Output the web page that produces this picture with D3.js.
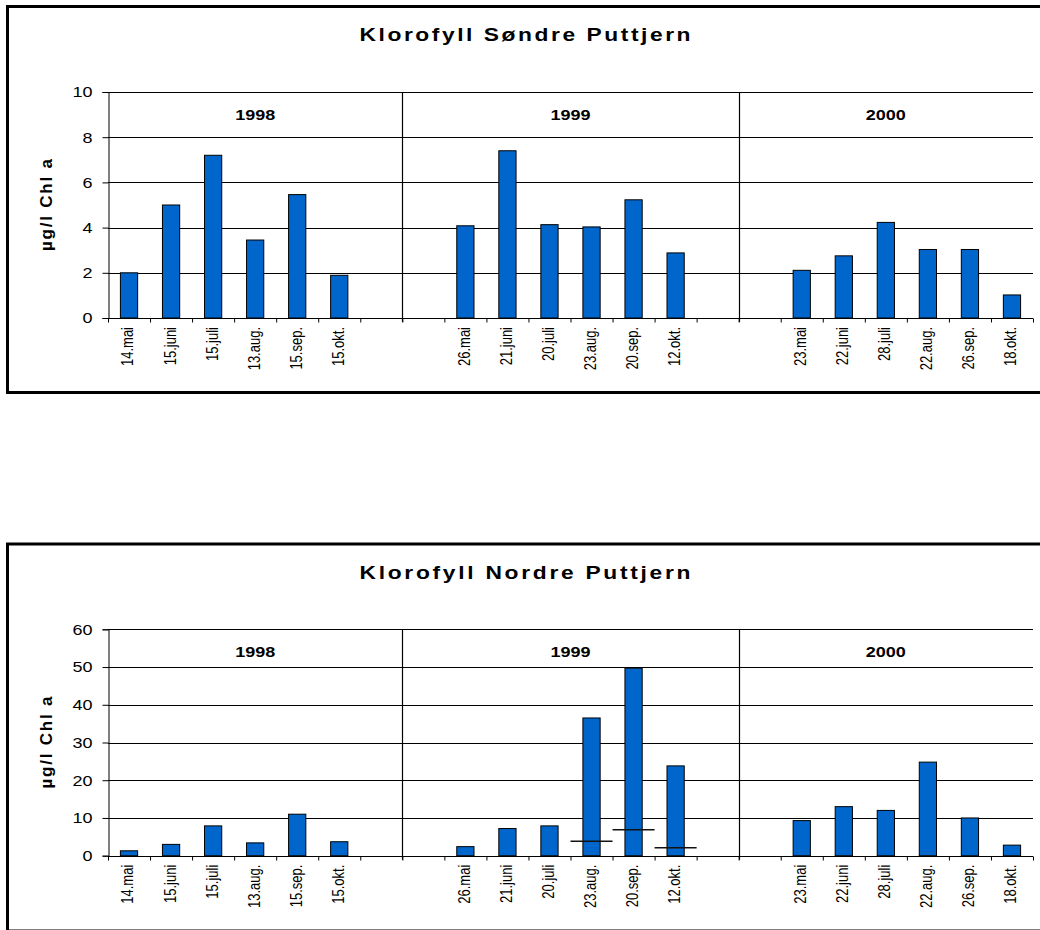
<!DOCTYPE html>
<html>
<head>
<meta charset="utf-8">
<script src="https://cdn.jsdelivr.net/npm/d3@7"></script>
<style>
  body { margin: 0; background: #fff; }
  svg { display: block; font-family: "Liberation Sans", Arial, sans-serif; }
</style>
</head>
<body>
<svg id="chart" width="1040" height="930"></svg>
<script>
// categories incl. the empty slots Excel leaves between the years
const categories = [
    "14.mai", "15.juni", "15.juli", "13.aug.", "15.sep.", "15.okt.", "",
    "", "26.mai", "21.juni", "20.juli", "23.aug.", "20.sep.", "12.okt.", "",
    "", "23.mai", "22.juni", "28.juli", "22.aug.", "26.sep.", "18.okt."
];
const years = ["1998", "1999", "2000"];
const yearSlots = [7, 8, 7]; // number of category slots per year

const soendreValues = [
    2.0, 5.0, 7.2, 3.45, 5.46, 1.89, null,
    null, 4.08, 7.4, 4.13, 4.03, 5.23, 2.88, null,
    null, 2.11, 2.75, 4.23, 3.03, 3.03, 1.02
];
const nordreValues = [
    1.3, 3.0, 7.9, 3.4, 11.0, 3.7, null,
    null, 2.4, 7.2, 7.9, 36.5, 49.7, 23.8, null,
    null, 9.3, 13.0, 12.0, 24.8, 10.0, 2.8
];
// second series in Nordre, shown only as dash markers
const nordreDashValues = [
    null, null, null, null, null, null, null,
    null, null, null, null, 3.8, 6.9, 2.1, null,
    null, null, null, null, null, null, null
];

const yTicksSoendre = [0, 2, 4, 6, 8, 10];
const yTicksNordre = [0, 10, 20, 30, 40, 50, 60];

const svg = d3.select("#chart");
const left = 108, right = 1033;
const stretch = 1.2; // the original picture is stretched sideways, so the glyphs are wider

/*
*   Draws one framed chart
*/
const drawChart = (opts) => {
    let g = svg.append("g");

    // frame
    g.append("rect")
        .attr("x", 7.5).attr("y", opts.frameTop)
        .attr("width", 1045).attr("height", opts.frameBottom - opts.frameTop)
        .attr("fill", "none").attr("stroke", "#000").attr("stroke-width", 3);

    let y = d3.scaleLinear().domain([0, d3.max(opts.ticks)]).range([opts.bottom, opts.top]);
    let x = d3.scaleBand().domain(d3.range(categories.length)).range([left, right]);
    let xEdge = d3.scaleLinear().domain([0, categories.length]).range([left, right]);

    // gridlines
    g.selectAll(".grid").data(opts.ticks.filter(d => d > 0)).enter().append("line")
        .attr("x1", left).attr("x2", right)
        .attr("y1", d => Math.round(y(d)) + 0.5).attr("y2", d => Math.round(y(d)) + 0.5)
        .attr("stroke", "#000").attr("stroke-width", 1);

    // year separators
    let edges = d3.cumsum(yearSlots);
    g.selectAll(".sep").data(edges.slice(0, -1)).enter().append("line")
        .attr("x1", d => Math.round(xEdge(d)) + 0.5).attr("x2", d => Math.round(xEdge(d)) + 0.5)
        .attr("y1", opts.top).attr("y2", opts.bottom + 4)
        .attr("stroke", "#000").attr("stroke-width", 1.2);

    // year labels
    g.selectAll(".year").data(years).enter().append("text")
        .attr("transform", (d, i) => "translate(" + ((xEdge(i === 0 ? 0 : edges[i - 1]) + xEdge(edges[i])) / 2) + "," + (opts.top + 27.5) + ") scale(" + stretch + ",1)")
        .attr("text-anchor", "middle")
        .attr("font-size", 15).attr("font-weight", "bold")
        .text(d => d);

    // bars
    let barW = x.bandwidth() * 0.41;
    let data = opts.values.map((v, i) => ({ i: i, v: v })).filter(d => d.v !== null);
    g.selectAll(".bar").data(data).enter().append("rect")
        .attr("x", d => x(d.i) + (x.bandwidth() - barW) / 2)
        .attr("y", d => y(d.v))
        .attr("width", barW)
        .attr("height", d => y(0) - y(d.v))
        .attr("fill", "#0066cc").attr("stroke", "#000").attr("stroke-width", 1);

    // dash markers
    if(opts.dashes) {
        let dashData = opts.dashes.map((v, i) => ({ i: i, v: v })).filter(d => d.v !== null);
        g.selectAll(".dash").data(dashData).enter().append("line")
            .attr("x1", d => x(d.i)).attr("x2", d => x(d.i) + x.bandwidth())
            .attr("y1", d => y(d.v)).attr("y2", d => y(d.v))
            .attr("stroke", "#111").attr("stroke-width", 1.5);
    }

    // y axis
    let yAxis = g.append("g").attr("transform", "translate(" + (left + 0.5) + ",0)")
        .call(d3.axisLeft(y).tickValues(opts.ticks).tickSize(6).tickPadding(10).tickFormat(d3.format("d")));
    yAxis.select(".domain").attr("stroke", "#000");
    yAxis.selectAll("text")
        .attr("x", 0).attr("transform", "translate(-16,0) scale(" + stretch + ",1)")
        .attr("font-size", 15).attr("fill", "#000")
        .attr("font-family", "Liberation Sans, Arial, sans-serif");

    // x axis (ticks between categories)
    let xAxis = g.append("g").attr("transform", "translate(0," + (Math.round(opts.bottom) + 0.5) + ")")
        .call(d3.axisBottom(xEdge).tickValues(d3.range(categories.length + 1)).tickSize(4).tickFormat(""));
    xAxis.select(".domain").attr("d", "M" + left + ",0H" + right).attr("stroke", "#000");

    g.selectAll(".cat").data(categories).enter().append("text")
        .attr("transform", (d, i) => "translate(" + (x(i) + x.bandwidth() / 2 - 1) + "," + (opts.bottom + 9) + ") scale(" + stretch + ",1) rotate(-90)")
        .attr("text-anchor", "end").attr("dy", "0.35em")
        .attr("font-size", 13)
        .text(d => d);

    // y title
    g.append("text")
        .attr("transform", "translate(52," + ((opts.top + opts.bottom) / 2) + ") rotate(-90)")
        .attr("text-anchor", "middle")
        .attr("font-size", 17).attr("font-weight", "bold")
        .attr("textLength", 92).attr("lengthAdjust", "spacing")
        .text("µg/l Chl a");

    // title
    g.append("text")
        .attr("transform", "translate(525," + opts.titleY + ") scale(" + stretch + ",1)")
        .attr("text-anchor", "middle")
        .attr("font-size", 19).attr("font-weight", "bold")
        .attr("textLength", 331 / stretch).attr("lengthAdjust", "spacing")
        .text(opts.title);
}

drawChart({ title: "Klorofyll Søndre Puttjern", values: soendreValues, ticks: yTicksSoendre,
    frameTop: 6.5, frameBottom: 392.5, top: 92, bottom: 318, titleY: 41 });
drawChart({ title: "Klorofyll Nordre Puttjern", values: nordreValues, dashes: nordreDashValues, ticks: yTicksNordre,
    frameTop: 544, frameBottom: 931, top: 629.3, bottom: 855.7, titleY: 579 });
</script>
</body>
</html>
